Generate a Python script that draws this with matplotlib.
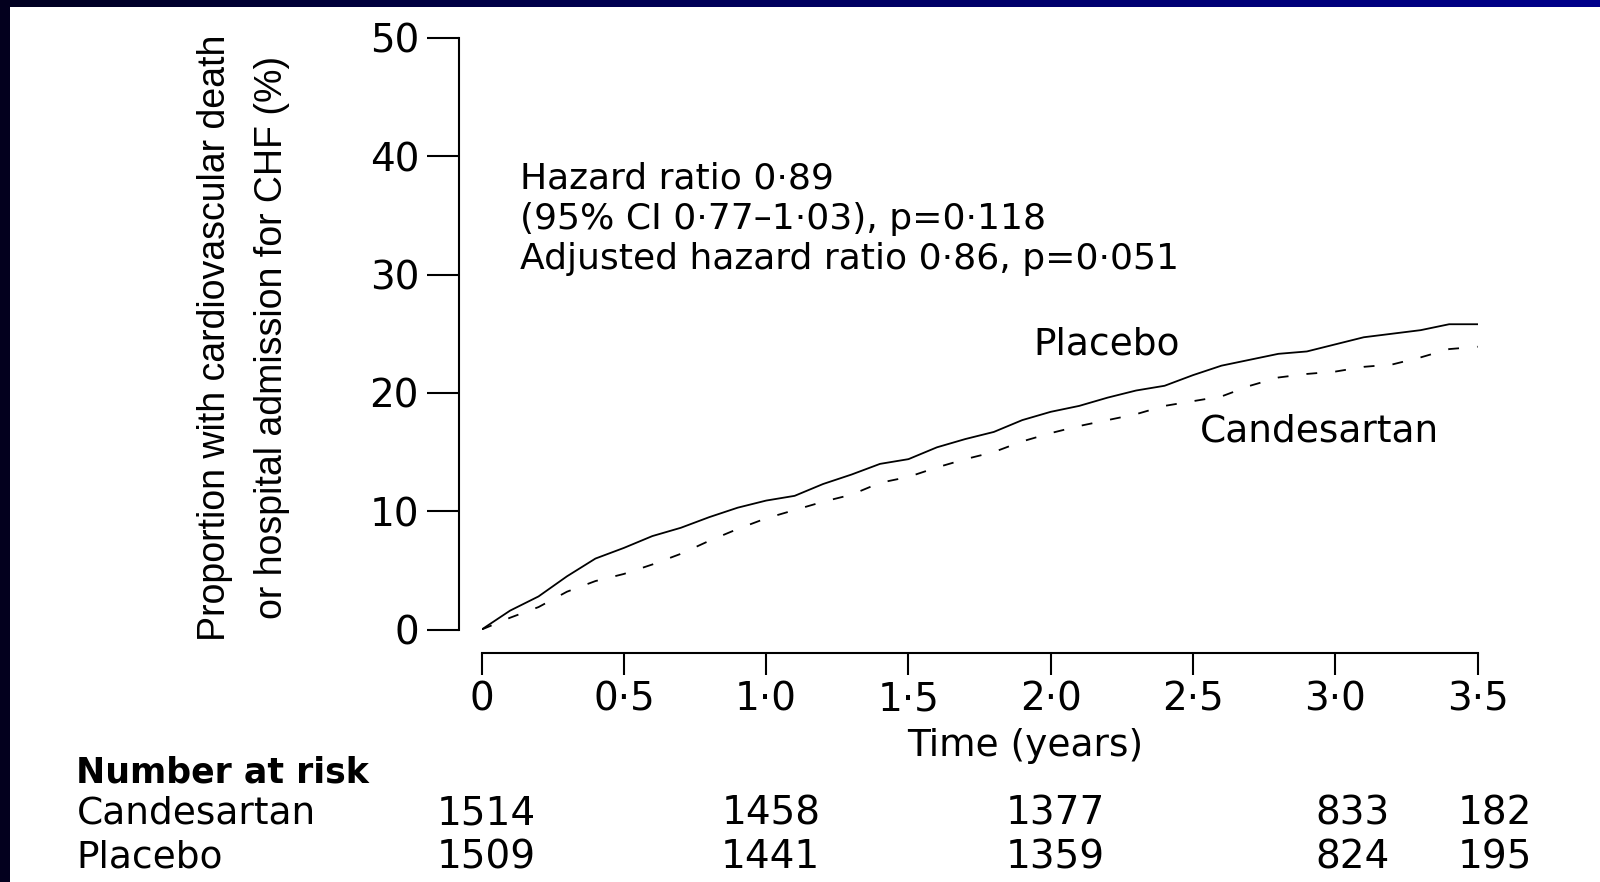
import matplotlib
matplotlib.use("Agg")
import matplotlib.pyplot as plt
from matplotlib.colors import LinearSegmentedColormap
from matplotlib.patches import Rectangle
import matplotlib.transforms as mtransforms
import numpy as np

# Kaplan-Meier style curves (years, %)
time = [0.0, 0.1, 0.2, 0.3, 0.4, 0.5, 0.6, 0.7, 0.8, 0.9, 1.0, 1.1, 1.2,
        1.3, 1.4, 1.5, 1.6, 1.7, 1.8, 1.9, 2.0, 2.1, 2.2, 2.3, 2.4, 2.5,
        2.6, 2.7, 2.8, 2.9, 3.0, 3.1, 3.2, 3.3, 3.4, 3.5]
placebo = [0.0, 1.6, 2.8, 4.5, 6.0, 6.9, 7.9, 8.6, 9.5, 10.3, 10.9, 11.3, 12.3,
           13.1, 14.0, 14.4, 15.4, 16.1, 16.7, 17.7, 18.4, 18.9, 19.6, 20.2, 20.6, 21.5,
           22.3, 22.8, 23.3, 23.5, 24.1, 24.7, 25.0, 25.3, 25.8, 25.8]
candesartan = [0.0, 1.0, 1.9, 3.2, 4.1, 4.7, 5.5, 6.4, 7.5, 8.5, 9.4, 10.1, 10.8,
               11.4, 12.4, 12.9, 13.7, 14.4, 15.0, 15.9, 16.6, 17.2, 17.7, 18.2, 18.9, 19.3,
               19.7, 20.6, 21.3, 21.6, 21.8, 22.2, 22.4, 23.0, 23.7, 23.9]

xticks = [0, 0.5, 1.0, 1.5, 2.0, 2.5, 3.0, 3.5]
xticklabels = ["0", "0\u00b75", "1\u00b70", "1\u00b75", "2\u00b70", "2\u00b75", "3\u00b70", "3\u00b75"]
yticks = [0, 10, 20, 30, 40, 50]

risk_times = [0, 1.0, 2.0, 3.0, 3.5]
risk_candesartan = [1514, 1458, 1377, 833, 182]
risk_placebo = [1509, 1441, 1359, 824, 195]

stats_lines = ["Hazard ratio 0\u00b789",
               "(95% CI 0\u00b777\u20131\u00b703), p=0\u00b7118",
               "Adjusted hazard ratio 0\u00b786, p=0\u00b7051"]

W, H = 1600, 882
fig = plt.figure(figsize=(W / 100, H / 100), dpi=100, facecolor="white")

# slide frame: dark left bar and gradient top bar
fig.patches.append(Rectangle((0, 0), 10 / W, 1, transform=fig.transFigure,
                             facecolor="#03001e", edgecolor="none", zorder=0))
bar = fig.add_axes([0, 1 - 7 / H, 1, 7 / H])
cmap = LinearSegmentedColormap.from_list("frame", ["#000020", "#000060", "#00008b"])
bar.imshow(np.linspace(0, 1, 256).reshape(1, -1), aspect="auto", cmap=cmap)
bar.set_axis_off()

ax = fig.add_axes([0.301, 0.2862, 0.6225, 0.6709])
ax.plot(time, placebo, color="black", lw=1.3)
ax.plot(time, candesartan, color="black", lw=1.3, dashes=(6, 10))

ax.set_xlim(0, 3.5)
ax.set_ylim(0, 50)
for s in ("top", "right"):
    ax.spines[s].set_visible(False)
ax.spines["left"].set_position(("outward", 16))
ax.spines["bottom"].set_position(("outward", 17))
ax.spines["left"].set_bounds(0, 50)
ax.spines["bottom"].set_bounds(0, 3.5)
for s in ("left", "bottom"):
    ax.spines[s].set_linewidth(1.5)

ax.set_xticks(xticks)
ax.set_xticklabels(xticklabels)
ax.set_yticks(yticks)
ax.tick_params(axis="y", length=23, width=1.5, pad=6, labelsize=28)
ax.tick_params(axis="x", length=16, width=1.5, pad=4, labelsize=28)

ax.set_xlabel("Time (years)", fontsize=27)
ax.xaxis.set_label_coords(0.546, -0.166)

fig.text(0.1525, 0.617,
         "Proportion with cardiovascular death\nor hospital admission for CHF (%)",
         rotation=90, ha="center", va="center", fontsize=27,
         family="Liberation Sans", linespacing=1.75, multialignment="center")

for i, line in enumerate(stats_lines):
    ax.text(0.136, 38.1 - i * 3.4, line, fontsize=26, ha="left", va="center")

ax.text(1.939, 24.1, "Placebo", fontsize=27, ha="left", va="center")
ax.text(2.523, 16.7, "Candesartan", fontsize=27, ha="left", va="center")

# number at risk table
fig.text(0.0478, 0.1247, "Number at risk", fontsize=25, fontweight="bold",
         ha="left", va="center")
fig.text(0.0478, 0.0776, "Candesartan", fontsize=27, ha="left", va="center")
fig.text(0.0478, 0.0283, "Placebo", fontsize=27, ha="left", va="center")
trans = mtransforms.blended_transform_factory(ax.transData, fig.transFigure)
for t, c, p in zip(risk_times, risk_candesartan, risk_placebo):
    ax.text(t + 0.19, 0.0776, str(c), transform=trans, fontsize=28,
            ha="right", va="center", clip_on=False)
    ax.text(t + 0.19, 0.0283, str(p), transform=trans, fontsize=28,
            ha="right", va="center", clip_on=False)

fig.savefig("out.png", dpi=100, facecolor="white")
